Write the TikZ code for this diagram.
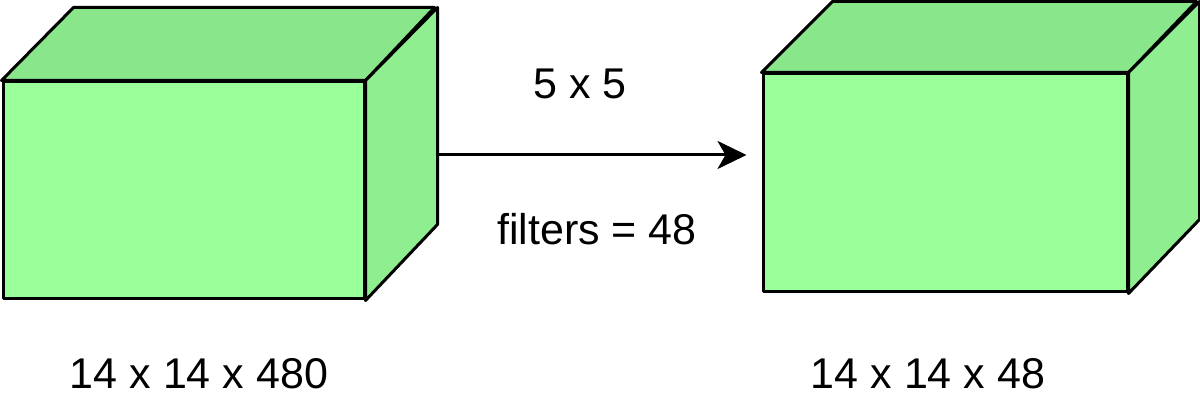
\documentclass[tikz,border=0pt]{standalone}
\usepackage{fontspec}
\setmainfont{Liberation Sans}
\usepackage{tikz}
\usetikzlibrary{arrows.meta, positioning, calc}
\definecolor{frontgreen}{HTML}{99FF99}
\definecolor{topgreen}{HTML}{8AE68A}
\definecolor{sidegreen}{HTML}{8FEE8F}

\begin{document}
\begin{tikzpicture}[x=0.5pt, y=-0.5pt, >={Stealth[length=14.5pt, width=14pt, inset=4pt]}, line width=1.5pt, font=\fontsize{21.5}{26}\selectfont]
\useasboundingbox (0,0) rectangle (1200,410);
\tikzset{front/.style={draw, fill=frontgreen, inner sep=0pt, line join=round}}
% input volume
\node[front, minimum width=180.5pt, minimum height=108.5pt] (inbox) at (183.5,190.5) {};
\draw[fill=topgreen, line join=round] (inbox.north west) -- ++(72,-73) -- ++(361,0) -- (inbox.north east) -- cycle;
\draw[fill=sidegreen, line join=round] (inbox.north east) -- ++(72,-73) -- ++(0,217) -- (inbox.south east) -- cycle;
% output volume
\node[front, minimum width=182pt, minimum height=109pt] (outbox) at (945,183) {};
\draw[fill=topgreen, line join=round] (outbox.north west) -- ++(71,-71) -- ++(364,0) -- (outbox.north east) -- cycle;
\draw[fill=sidegreen, line join=round] (outbox.north east) -- ++(71,-71) -- ++(0,218) -- (outbox.south east) -- cycle;
% convolution
\coordinate (insrc) at (436,155);
\draw[->, shorten >=7.5pt] (insrc) -- (insrc -| outbox.west);
\node (kernel) at (580,84) {5 x 5};
\node (filters) at (597,229) {filters = 48};
% sizes
\node (insize) at (199,374) {14 x 14 x 480};
\node (outsize) at (928,374) {14 x 14 x 48};
\end{tikzpicture}
\end{document}
